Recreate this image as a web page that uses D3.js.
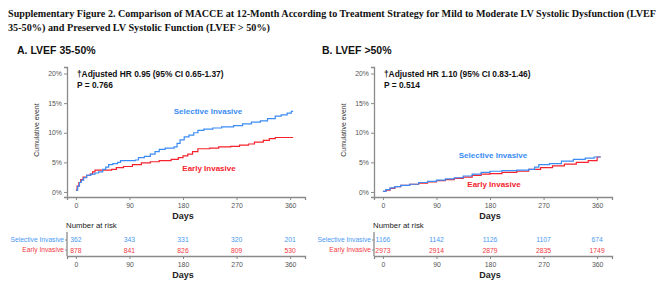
<!DOCTYPE html>
<html>
<head>
<meta charset="utf-8">
<script src="https://cdn.jsdelivr.net/npm/d3@7"></script>
<style>
  body { margin: 0; background: #fff; }
  svg { display: block; }
</style>
</head>
<body>
<div id="chart"></div>
<script>
// x ticks / days
const dayTicks = [0, 90, 180, 270, 360];
const pctTicks = [0, 5, 10, 15, 20];
const groups = ["Selective Invasive", "Early Invasive"];

// Panel A - LVEF 35-50% (day, cumulative %)
const selDaysA = [0, 3, 6, 9, 13, 18, 25, 32, 38, 45, 50, 55, 62, 70, 75, 100, 105, 115, 125, 133, 140, 150, 165, 170, 175, 182, 190, 198, 205, 215, 230, 245, 265, 280, 295, 310, 322, 335, 345, 355, 362, 365];
const selPctA  = [0.3, 1.0, 1.6, 2.0, 2.4, 2.8, 3.0, 3.2, 3.4, 3.8, 4.2, 4.6, 4.8, 5.0, 5.3, 5.4, 5.8, 6.0, 6.4, 6.8, 7.2, 7.4, 7.6, 8.2, 8.8, 9.3, 9.6, 10.0, 10.4, 10.6, 10.8, 11.0, 11.2, 11.5, 11.8, 12.0, 12.4, 12.8, 13.0, 13.3, 13.6, 13.6];
const earDaysA = [0, 2, 5, 8, 12, 18, 24, 28, 32, 60, 68, 80, 95, 110, 125, 140, 160, 172, 180, 188, 196, 205, 225, 240, 260, 275, 290, 300, 315, 325, 335, 365];
const earPctA  = [0.3, 1.0, 1.6, 2.1, 2.5, 2.8, 3.0, 3.4, 3.7, 3.8, 4.1, 4.3, 4.6, 4.9, 5.1, 5.3, 5.5, 5.8, 6.1, 6.4, 6.8, 7.3, 7.4, 7.6, 7.7, 7.9, 8.1, 8.4, 8.7, 9.0, 9.2, 9.2];
const riskSelA = [362, 343, 331, 320, 201];
const riskEarA = [878, 841, 826, 809, 530];

// Panel B - LVEF >50%
const selDaysB = [0, 5, 12, 20, 30, 45, 60, 75, 90, 105, 120, 135, 150, 165, 180, 200, 225, 245, 255, 262, 280, 300, 320, 340, 355, 365];
const selPctB  = [0.1, 0.4, 0.7, 0.9, 1.1, 1.3, 1.6, 1.8, 2.0, 2.2, 2.4, 2.7, 3.0, 3.3, 3.5, 3.6, 3.7, 3.8, 4.2, 4.6, 4.8, 5.2, 5.5, 5.7, 5.9, 6.0];
const earDaysB = [0, 5, 12, 20, 30, 45, 60, 75, 90, 105, 120, 135, 150, 165, 180, 200, 225, 245, 265, 285, 305, 325, 345, 360, 365];
const earPctB  = [0.1, 0.3, 0.6, 0.9, 1.1, 1.3, 1.5, 1.7, 1.9, 2.1, 2.3, 2.5, 2.8, 3.0, 3.1, 3.3, 3.5, 3.8, 4.1, 4.4, 4.7, 5.0, 5.3, 5.9, 6.0];
const riskSelB = [1166, 1142, 1126, 1107, 674];
const riskEarB = [2973, 2914, 2879, 2835, 1749];

const BLUE = "#3b8cf5", RED = "#f5222d";
const BLUE_T = "#4a9af5", RED_T = "#f23a44";
const AXIS = "#8a8a8a", TICKTXT = "#555";

const svg = d3.select("#chart").append("svg")
  .attr("width", 665).attr("height", 288)
  .style("font-family", "Arial, 'Liberation Sans', sans-serif");

// figure title (condensed serif, stretched vertically a bit)
const title = svg.append("g")
  .style("font-family", "'Liberation Serif', 'Times New Roman', serif")
  .style("font-weight", "bold").style("font-size", "9.6px").attr("fill", "#111");
title.append("text").attr("transform", "translate(8,17) scale(1,1.12)")
  .attr("textLength", 648).attr("lengthAdjust", "spacingAndGlyphs")
  .text("Supplementary Figure 2. Comparison of MACCE at 12-Month According to Treatment Strategy for Mild to Moderate LV Systolic Dysfunction (LVEF");
title.append("text").attr("transform", "translate(8,31) scale(1,1.12)")
  .attr("textLength", 262).attr("lengthAdjust", "spacingAndGlyphs")
  .text("35-50%) and Preserved LV Systolic Function (LVEF > 50%)");

function drawPanel(p) {
  const g = svg.append("g");

  g.append("text").attr("x", p.titleX).attr("y", 54)
    .style("font-size", "10.5px").style("font-weight", "bold").attr("fill", "#111")
    .text(p.title);

  const x = d3.scaleLinear().domain([-15, 385]).range([p.x0, p.x1]);
  const y = d3.scaleLinear().domain([-0.85, 21.1]).range([197, 67]);

  // y axis
  const yAx = g.append("g").attr("transform", `translate(${p.x0},0)`)
    .call(d3.axisLeft(y).tickValues(pctTicks).tickFormat(d => d + "%").tickSize(3).tickPadding(2));
  // x axis
  const xAx = g.append("g").attr("transform", "translate(0,197)")
    .call(d3.axisBottom(x).tickValues(dayTicks).tickSize(3).tickPadding(3));
  [yAx, xAx].forEach(a => {
    a.select(".domain").attr("stroke", AXIS).attr("stroke-width", 1.3);
    a.selectAll(".tick line").attr("stroke", AXIS);
    a.selectAll("text").attr("fill", TICKTXT).style("font-size", "6.9px").style("font-family", "Arial, 'Liberation Sans', sans-serif");
  });

  g.append("text")
    .attr("transform", `translate(${p.x0 - 28},130) rotate(-90)`)
    .attr("text-anchor", "middle").style("font-size", "6.9px").attr("fill", "#333")
    .text("Cumulative event");

  g.append("text").attr("x", (x(0) + x(360)) / 2).attr("y", 219)
    .attr("text-anchor", "middle").style("font-size", "9px").style("font-weight", "bold").attr("fill", "#222")
    .text("Days");

  // curves
  const line = d3.line().x(d => x(d[0])).y(d => y(d[1])).curve(d3.curveStepAfter);
  const curves = [
    { pts: d3.zip(p.earDays, p.earPct), c: RED },
    { pts: d3.zip(p.selDays, p.selPct), c: BLUE }
  ];
  g.selectAll("path.km").data(curves).join("path").attr("class", "km")
    .attr("d", d => line(d.pts)).attr("fill", "none")
    .attr("stroke", d => d.c).attr("stroke-width", 1.2);

  // annotation
  const ann = g.append("g").style("font-size", "8.4px").style("font-weight", "bold").attr("fill", "#111");
  ann.append("text").attr("x", x(0) + 1).attr("y", 77).text(p.hr);
  ann.append("text").attr("x", x(0) + 1).attr("y", 88).text(p.pval);

  g.append("text").attr("x", p.selLab[0]).attr("y", p.selLab[1]).attr("text-anchor", "middle")
    .style("font-size", "8px").style("font-weight", "bold").attr("fill", BLUE).text(groups[0]);
  g.append("text").attr("x", p.earLab[0]).attr("y", p.earLab[1]).attr("text-anchor", "middle")
    .style("font-size", "8px").style("font-weight", "bold").attr("fill", RED).text(groups[1]);

  // number at risk
  g.append("text").attr("x", p.x0 - 1).attr("y", 228)
    .style("font-size", "7.8px").attr("fill", "#222").text("Number at risk");

  const ry = d3.scalePoint().domain(groups).range([239, 250]);
  const rAx = g.append("g").attr("transform", `translate(${p.x0},0)`)
    .call(d3.axisLeft(ry.copy().range([239.5, 249.5])).tickSize(2).tickPadding(1));
  rAx.select(".domain").remove();
  g.append("line").attr("x1", p.x0).attr("x2", p.x0).attr("y1", 232).attr("y2", 256)
    .attr("stroke", AXIS).attr("stroke-width", 1.3);
  rAx.selectAll(".tick line").attr("stroke", AXIS);
  rAx.selectAll("text").style("font-size", "6.7px").style("font-family", "Arial, 'Liberation Sans', sans-serif")
    .attr("fill", d => d === groups[0] ? BLUE_T : RED_T);

  const rows = [{ g: groups[0], v: p.riskSel, c: BLUE_T }, { g: groups[1], v: p.riskEar, c: RED_T }];
  rows.forEach(r => {
    g.selectAll(null).data(r.v).join("text")
      .attr("x", (d, i) => x(dayTicks[i])).attr("y", ry(r.g) + 2.5)
      .attr("text-anchor", "middle").style("font-size", "6.8px").attr("fill", r.c)
      .text(d => d);
  });

  const bAx = g.append("g").attr("transform", "translate(0,256)")
    .call(d3.axisBottom(x).tickValues(dayTicks).tickSize(3).tickPadding(3));
  bAx.select(".domain").attr("stroke", AXIS).attr("stroke-width", 1.3);
  bAx.selectAll(".tick line").attr("stroke", AXIS);
  bAx.selectAll("text").attr("fill", TICKTXT).style("font-size", "6.9px").style("font-family", "Arial, 'Liberation Sans', sans-serif");

  g.append("text").attr("x", (x(0) + x(360)) / 2).attr("y", 278)
    .attr("text-anchor", "middle").style("font-size", "9px").style("font-weight", "bold").attr("fill", "#222")
    .text("Days");
}

drawPanel({
  title: "A. LVEF 35-50%", titleX: 17, x0: 67, x1: 305,
  selDays: selDaysA, selPct: selPctA, earDays: earDaysA, earPct: earPctA,
  riskSel: riskSelA, riskEar: riskEarA,
  hr: "\u2020Adjusted HR 0.95 (95% CI 0.65-1.37)", pval: "P = 0.766",
  selLab: [208, 114], earLab: [209, 171]
});
drawPanel({
  title: "B. LVEF >50%", titleX: 322, x0: 374, x1: 612,
  selDays: selDaysB, selPct: selPctB, earDays: earDaysB, earPct: earPctB,
  riskSel: riskSelB, riskEar: riskEarB,
  hr: "\u2020Adjusted HR 1.10 (95% CI 0.83-1.46)", pval: "P = 0.514",
  selLab: [493, 158], earLab: [494, 187]
});
</script>
</body>
</html>
